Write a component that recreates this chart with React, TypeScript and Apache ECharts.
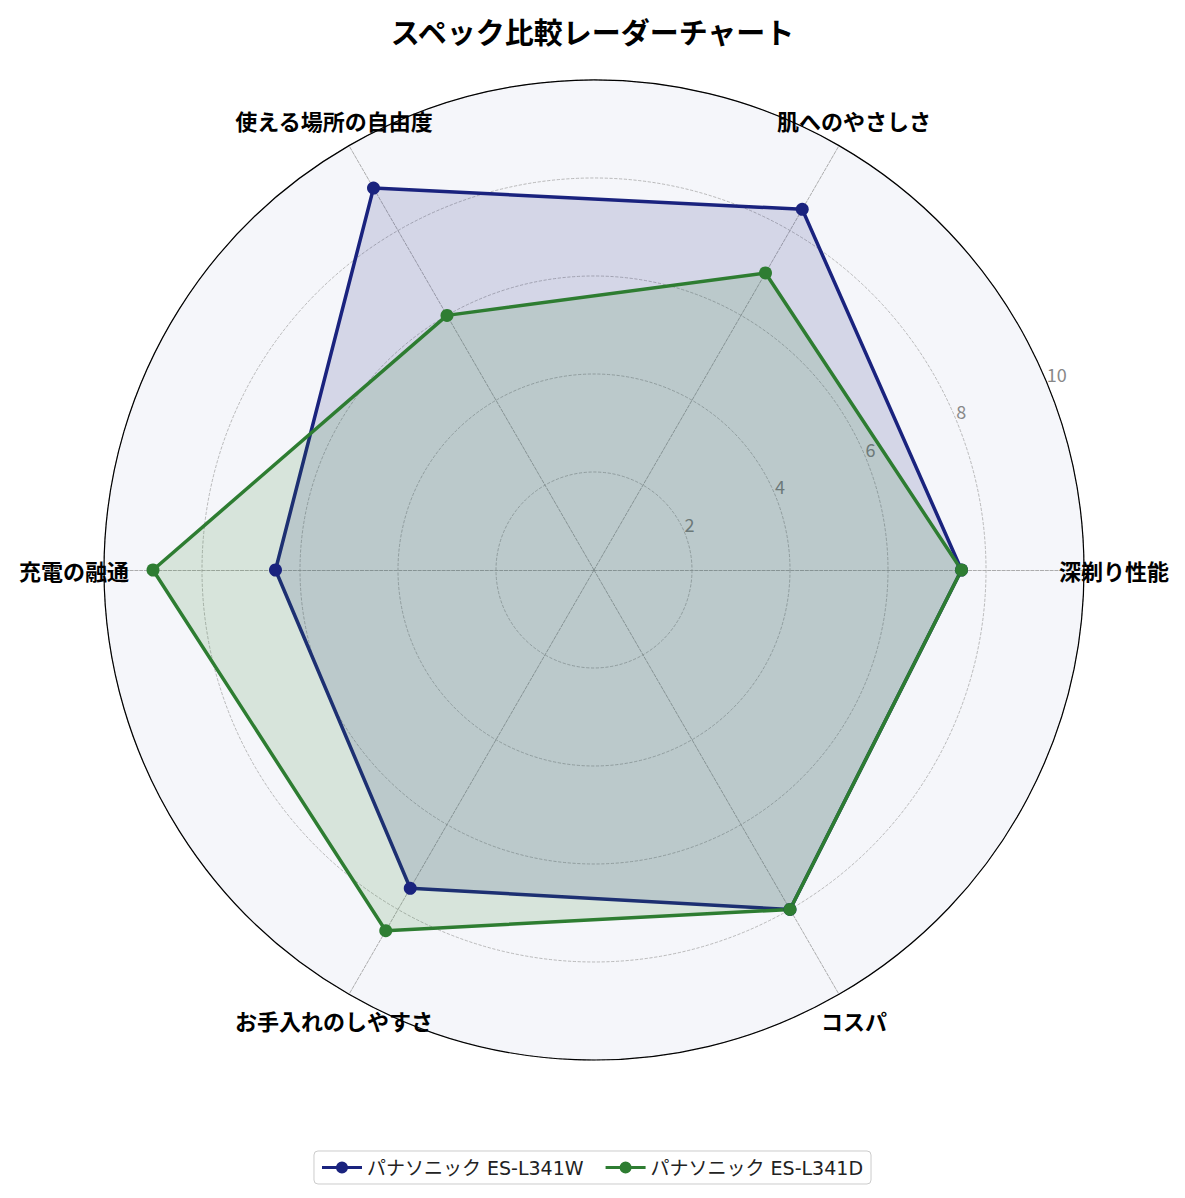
import React, { useEffect, useRef } from 'react'
import * as echarts from 'echarts'

// 軸は右から反時計回り
const indicators = ['深剃り性能', '肌へのやさしさ', '使える場所の自由度', '充電の融通', 'お手入れのしやすさ', 'コスパ']
const seriesNames = ['パナソニック ES-L341W', 'パナソニック ES-L341D']
const valuesW = [7.5, 8.5, 9, 6.5, 7.5, 8]
const valuesD = [7.5, 7, 6, 9, 8.5, 8]
const radialTicks = [2, 4, 6, 8, 10]
const seriesColors = ['#1a237e', '#2e7d32']

const FONT = "'Noto Sans CJK JP', 'Noto Sans', sans-serif"
const LEGEND_FONT = "'DejaVu Sans', 'Noto Sans CJK JP', sans-serif"
const CX = 586
const CY = 562
const R = 490
const LABEL_R = 520

const App: React.FC = () => {
  const ref = useRef<HTMLDivElement>(null)

  useEffect(() => {
    if (!ref.current) return
    const chart = echarts.init(ref.current, undefined, { renderer: 'svg' })

    // 軸名は matplotlib 風に中央揃えで円の外側へ
    const nameTexts = indicators.map((name, i) => {
      const a = (i * 360 / indicators.length) * Math.PI / 180
      return {
        type: 'text',
        x: CX + LABEL_R * Math.cos(a),
        y: CY - LABEL_R * Math.sin(a),
        z: 10,
        style: {
          text: name,
          fontSize: 22,
          fontWeight: 'bold',
          fontFamily: FONT,
          fill: '#000',
          textAlign: 'center',
          textVerticalAlign: 'middle',
        },
      }
    })

    chart.setOption({
      animation: false,
      backgroundColor: '#fff',
      textStyle: { fontFamily: FONT },
      title: {
        text: 'スペック比較レーダーチャート',
        left: 'center',
        top: 3,
        textStyle: { fontSize: 29, fontWeight: 'bold', color: '#000', fontFamily: FONT },
      },
      legend: {
        data: seriesNames,
        left: 'center',
        bottom: 6,
        icon: 'path://M0,4.5h40v3h-40z M14,6a6,6 0 1,1 12,0a6,6 0 1,1 -12,0z',
        itemWidth: 40,
        itemHeight: 12,
        itemGap: 22,
        padding: [7, 8],
        borderColor: '#ccc',
        borderWidth: 1,
        borderRadius: 4,
        backgroundColor: '#fff',
        textStyle: { fontSize: 19, color: '#222', fontFamily: LEGEND_FONT },
      },
      radar: {
        center: [CX, CY],
        radius: R,
        startAngle: 0,
        shape: 'circle',
        splitNumber: 5,
        z: 1,
        indicator: indicators.map(name => ({ name, min: 0, max: 10 })),
        axisName: { show: false },
        axisLine: { lineStyle: { color: '#999', width: 0.8, type: 'dashed' } },
        splitLine: { lineStyle: { color: '#aaa', width: 0.8, type: 'dashed' } },
        splitArea: { show: true, areaStyle: { color: ['#f5f6fa'] } },
      },
      polar: { center: [CX, CY], radius: R },
      angleAxis: {
        type: 'value',
        min: 0,
        max: 360,
        startAngle: 22.5,
        z: 3,
        axisLine: { show: true, lineStyle: { color: '#000', width: 1.2 } },
        axisTick: { show: false },
        axisLabel: { show: false },
        splitLine: { show: false },
      },
      radiusAxis: {
        type: 'value',
        min: 0,
        max: 10,
        interval: 2,
        z: 3,
        axisLine: { show: false },
        axisTick: { show: false },
        splitLine: { show: false },
        axisLabel: {
          color: '#888',
          fontSize: 18,
          margin: 0,
          align: 'left',
          verticalAlign: 'bottom',
          formatter: (v: number) => (radialTicks.includes(v) ? String(v) : ''),
        },
      },
      graphic: nameTexts,
      series: [{
        type: 'radar',
        z: 4,
        symbol: 'circle',
        symbolSize: 13,
        data: [
          {
            name: seriesNames[0],
            value: valuesW,
            itemStyle: { color: seriesColors[0] },
            lineStyle: { color: seriesColors[0], width: 3.5 },
            areaStyle: { color: seriesColors[0], opacity: 0.15 },
          },
          {
            name: seriesNames[1],
            value: valuesD,
            itemStyle: { color: seriesColors[1] },
            lineStyle: { color: seriesColors[1], width: 3.5 },
            areaStyle: { color: seriesColors[1], opacity: 0.15 },
          },
        ],
      }],
    })

    return () => chart.dispose()
  }, [])

  return <div ref={ref} style={{ width: 1169, height: 1182 }} />
}

export default App
